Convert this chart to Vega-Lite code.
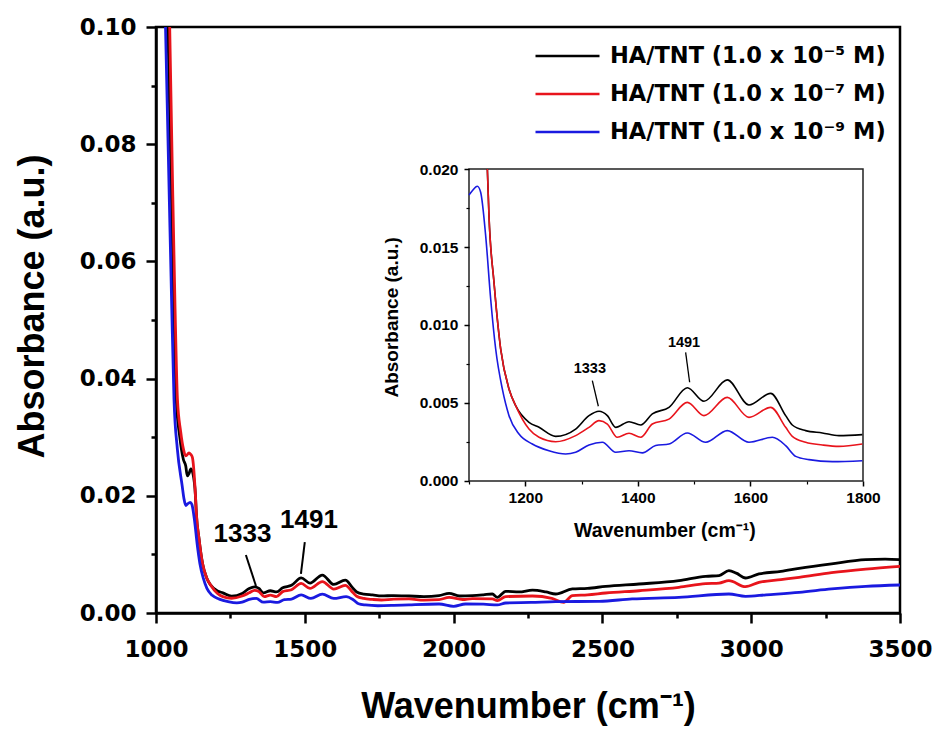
{
  "$schema": "https://vega.github.io/schema/vega-lite/v6.json",
  "width": 744,
  "height": 586,
  "padding": {"left": 14, "top": 16, "right": 5, "bottom": 5},
  "background": "white",
  "config": {
    "view": {"stroke": "black", "strokeWidth": 2.5},
    "axis": {"grid": false, "labelColor": "black", "tickColor": "black", "domainColor": "black", "titleColor": "black", "labelFlush": false, "labelOverlap": false, "labelBound": false}
  },
  "datasets": {
    "spectra": [
      {"series": "HA/TNT (1.0 x 10⁻⁵ M)", "w": 1040, "A": 0.1},
      {"series": "HA/TNT (1.0 x 10⁻⁵ M)", "w": 1050, "A": 0.075},
      {"series": "HA/TNT (1.0 x 10⁻⁵ M)", "w": 1060, "A": 0.052},
      {"series": "HA/TNT (1.0 x 10⁻⁵ M)", "w": 1068, "A": 0.0365},
      {"series": "HA/TNT (1.0 x 10⁻⁵ M)", "w": 1080, "A": 0.03},
      {"series": "HA/TNT (1.0 x 10⁻⁵ M)", "w": 1092, "A": 0.0262},
      {"series": "HA/TNT (1.0 x 10⁻⁵ M)", "w": 1100, "A": 0.0251},
      {"series": "HA/TNT (1.0 x 10⁻⁵ M)", "w": 1105, "A": 0.0234},
      {"series": "HA/TNT (1.0 x 10⁻⁵ M)", "w": 1111, "A": 0.0238},
      {"series": "HA/TNT (1.0 x 10⁻⁵ M)", "w": 1117, "A": 0.0246},
      {"series": "HA/TNT (1.0 x 10⁻⁵ M)", "w": 1124, "A": 0.0238},
      {"series": "HA/TNT (1.0 x 10⁻⁵ M)", "w": 1132.6, "A": 0.02},
      {"series": "HA/TNT (1.0 x 10⁻⁵ M)", "w": 1135.5, "A": 0.017},
      {"series": "HA/TNT (1.0 x 10⁻⁵ M)", "w": 1144.4, "A": 0.01274},
      {"series": "HA/TNT (1.0 x 10⁻⁵ M)", "w": 1156.3, "A": 0.00846},
      {"series": "HA/TNT (1.0 x 10⁻⁵ M)", "w": 1171.1, "A": 0.0059},
      {"series": "HA/TNT (1.0 x 10⁻⁵ M)", "w": 1182.9, "A": 0.00483},
      {"series": "HA/TNT (1.0 x 10⁻⁵ M)", "w": 1206.6, "A": 0.00376},
      {"series": "HA/TNT (1.0 x 10⁻⁵ M)", "w": 1224.4, "A": 0.00344},
      {"series": "HA/TNT (1.0 x 10⁻⁵ M)", "w": 1254, "A": 0.00286},
      {"series": "HA/TNT (1.0 x 10⁻⁵ M)", "w": 1289.5, "A": 0.00333},
      {"series": "HA/TNT (1.0 x 10⁻⁵ M)", "w": 1313.2, "A": 0.00419},
      {"series": "HA/TNT (1.0 x 10⁻⁵ M)", "w": 1331, "A": 0.00447},
      {"series": "HA/TNT (1.0 x 10⁻⁵ M)", "w": 1345.8, "A": 0.00419},
      {"series": "HA/TNT (1.0 x 10⁻⁵ M)", "w": 1360.6, "A": 0.00344},
      {"series": "HA/TNT (1.0 x 10⁻⁵ M)", "w": 1384.3, "A": 0.0038},
      {"series": "HA/TNT (1.0 x 10⁻⁵ M)", "w": 1405, "A": 0.00359},
      {"series": "HA/TNT (1.0 x 10⁻⁵ M)", "w": 1425.7, "A": 0.0043},
      {"series": "HA/TNT (1.0 x 10⁻⁵ M)", "w": 1455.3, "A": 0.00472},
      {"series": "HA/TNT (1.0 x 10⁻⁵ M)", "w": 1487.9, "A": 0.00598},
      {"series": "HA/TNT (1.0 x 10⁻⁵ M)", "w": 1517.5, "A": 0.00511},
      {"series": "HA/TNT (1.0 x 10⁻⁵ M)", "w": 1558.9, "A": 0.00648},
      {"series": "HA/TNT (1.0 x 10⁻⁵ M)", "w": 1597.4, "A": 0.00487},
      {"series": "HA/TNT (1.0 x 10⁻⁵ M)", "w": 1636, "A": 0.00562},
      {"series": "HA/TNT (1.0 x 10⁻⁵ M)", "w": 1662.6, "A": 0.00419},
      {"series": "HA/TNT (1.0 x 10⁻⁵ M)", "w": 1674.4, "A": 0.00359},
      {"series": "HA/TNT (1.0 x 10⁻⁵ M)", "w": 1698.1, "A": 0.00323},
      {"series": "HA/TNT (1.0 x 10⁻⁵ M)", "w": 1727.7, "A": 0.00308},
      {"series": "HA/TNT (1.0 x 10⁻⁵ M)", "w": 1757.3, "A": 0.00291},
      {"series": "HA/TNT (1.0 x 10⁻⁵ M)", "w": 1798.8, "A": 0.00297},
      {"series": "HA/TNT (1.0 x 10⁻⁵ M)", "w": 1850, "A": 0.0029},
      {"series": "HA/TNT (1.0 x 10⁻⁵ M)", "w": 1900, "A": 0.0028},
      {"series": "HA/TNT (1.0 x 10⁻⁵ M)", "w": 1951, "A": 0.00296},
      {"series": "HA/TNT (1.0 x 10⁻⁵ M)", "w": 1985, "A": 0.00336},
      {"series": "HA/TNT (1.0 x 10⁻⁵ M)", "w": 2020, "A": 0.0029},
      {"series": "HA/TNT (1.0 x 10⁻⁵ M)", "w": 2063, "A": 0.00296},
      {"series": "HA/TNT (1.0 x 10⁻⁵ M)", "w": 2100, "A": 0.0031},
      {"series": "HA/TNT (1.0 x 10⁻⁵ M)", "w": 2130, "A": 0.00324},
      {"series": "HA/TNT (1.0 x 10⁻⁵ M)", "w": 2147, "A": 0.00268},
      {"series": "HA/TNT (1.0 x 10⁻⁵ M)", "w": 2175, "A": 0.0037},
      {"series": "HA/TNT (1.0 x 10⁻⁵ M)", "w": 2220, "A": 0.0036},
      {"series": "HA/TNT (1.0 x 10⁻⁵ M)", "w": 2265, "A": 0.0039},
      {"series": "HA/TNT (1.0 x 10⁻⁵ M)", "w": 2310, "A": 0.0036},
      {"series": "HA/TNT (1.0 x 10⁻⁵ M)", "w": 2343, "A": 0.00324},
      {"series": "HA/TNT (1.0 x 10⁻⁵ M)", "w": 2399, "A": 0.0041},
      {"series": "HA/TNT (1.0 x 10⁻⁵ M)", "w": 2450, "A": 0.0042},
      {"series": "HA/TNT (1.0 x 10⁻⁵ M)", "w": 2511, "A": 0.00455},
      {"series": "HA/TNT (1.0 x 10⁻⁵ M)", "w": 2623, "A": 0.00495},
      {"series": "HA/TNT (1.0 x 10⁻⁵ M)", "w": 2757, "A": 0.00552},
      {"series": "HA/TNT (1.0 x 10⁻⁵ M)", "w": 2847, "A": 0.00626},
      {"series": "HA/TNT (1.0 x 10⁻⁵ M)", "w": 2892, "A": 0.00637},
      {"series": "HA/TNT (1.0 x 10⁻⁵ M)", "w": 2925, "A": 0.00722},
      {"series": "HA/TNT (1.0 x 10⁻⁵ M)", "w": 2950, "A": 0.0068},
      {"series": "HA/TNT (1.0 x 10⁻⁵ M)", "w": 2981, "A": 0.00597},
      {"series": "HA/TNT (1.0 x 10⁻⁵ M)", "w": 3026, "A": 0.00666},
      {"series": "HA/TNT (1.0 x 10⁻⁵ M)", "w": 3100, "A": 0.0071},
      {"series": "HA/TNT (1.0 x 10⁻⁵ M)", "w": 3161, "A": 0.00762},
      {"series": "HA/TNT (1.0 x 10⁻⁵ M)", "w": 3270, "A": 0.0084},
      {"series": "HA/TNT (1.0 x 10⁻⁵ M)", "w": 3385, "A": 0.0091},
      {"series": "HA/TNT (1.0 x 10⁻⁵ M)", "w": 3450, "A": 0.0092},
      {"series": "HA/TNT (1.0 x 10⁻⁵ M)", "w": 3500, "A": 0.0091},

      {"series": "HA/TNT (1.0 x 10⁻⁷ M)", "w": 1046, "A": 0.1},
      {"series": "HA/TNT (1.0 x 10⁻⁷ M)", "w": 1055, "A": 0.075},
      {"series": "HA/TNT (1.0 x 10⁻⁷ M)", "w": 1064, "A": 0.052},
      {"series": "HA/TNT (1.0 x 10⁻⁷ M)", "w": 1072, "A": 0.0365},
      {"series": "HA/TNT (1.0 x 10⁻⁷ M)", "w": 1083, "A": 0.0309},
      {"series": "HA/TNT (1.0 x 10⁻⁷ M)", "w": 1092, "A": 0.028},
      {"series": "HA/TNT (1.0 x 10⁻⁷ M)", "w": 1100, "A": 0.0268},
      {"series": "HA/TNT (1.0 x 10⁻⁷ M)", "w": 1111, "A": 0.0273},
      {"series": "HA/TNT (1.0 x 10⁻⁷ M)", "w": 1116, "A": 0.0271},
      {"series": "HA/TNT (1.0 x 10⁻⁷ M)", "w": 1122, "A": 0.0266},
      {"series": "HA/TNT (1.0 x 10⁻⁷ M)", "w": 1132.6, "A": 0.02},
      {"series": "HA/TNT (1.0 x 10⁻⁷ M)", "w": 1135.5, "A": 0.017},
      {"series": "HA/TNT (1.0 x 10⁻⁷ M)", "w": 1144.4, "A": 0.01274},
      {"series": "HA/TNT (1.0 x 10⁻⁷ M)", "w": 1156.3, "A": 0.00846},
      {"series": "HA/TNT (1.0 x 10⁻⁷ M)", "w": 1171.1, "A": 0.0059},
      {"series": "HA/TNT (1.0 x 10⁻⁷ M)", "w": 1182.9, "A": 0.00483},
      {"series": "HA/TNT (1.0 x 10⁻⁷ M)", "w": 1206.6, "A": 0.00333},
      {"series": "HA/TNT (1.0 x 10⁻⁷ M)", "w": 1224.4, "A": 0.0028},
      {"series": "HA/TNT (1.0 x 10⁻⁷ M)", "w": 1254, "A": 0.00252},
      {"series": "HA/TNT (1.0 x 10⁻⁷ M)", "w": 1289.5, "A": 0.00291},
      {"series": "HA/TNT (1.0 x 10⁻⁷ M)", "w": 1313.2, "A": 0.00344},
      {"series": "HA/TNT (1.0 x 10⁻⁷ M)", "w": 1331, "A": 0.00387},
      {"series": "HA/TNT (1.0 x 10⁻⁷ M)", "w": 1345.8, "A": 0.00365},
      {"series": "HA/TNT (1.0 x 10⁻⁷ M)", "w": 1363.5, "A": 0.0028},
      {"series": "HA/TNT (1.0 x 10⁻⁷ M)", "w": 1384.3, "A": 0.00306},
      {"series": "HA/TNT (1.0 x 10⁻⁷ M)", "w": 1405, "A": 0.0028},
      {"series": "HA/TNT (1.0 x 10⁻⁷ M)", "w": 1425.7, "A": 0.00365},
      {"series": "HA/TNT (1.0 x 10⁻⁷ M)", "w": 1455.3, "A": 0.00397},
      {"series": "HA/TNT (1.0 x 10⁻⁷ M)", "w": 1487.9, "A": 0.00504},
      {"series": "HA/TNT (1.0 x 10⁻⁷ M)", "w": 1517.5, "A": 0.00419},
      {"series": "HA/TNT (1.0 x 10⁻⁷ M)", "w": 1558.9, "A": 0.00536},
      {"series": "HA/TNT (1.0 x 10⁻⁷ M)", "w": 1597.4, "A": 0.00408},
      {"series": "HA/TNT (1.0 x 10⁻⁷ M)", "w": 1636, "A": 0.00472},
      {"series": "HA/TNT (1.0 x 10⁻⁷ M)", "w": 1662.6, "A": 0.00344},
      {"series": "HA/TNT (1.0 x 10⁻⁷ M)", "w": 1674.4, "A": 0.00286},
      {"series": "HA/TNT (1.0 x 10⁻⁷ M)", "w": 1698.1, "A": 0.00248},
      {"series": "HA/TNT (1.0 x 10⁻⁷ M)", "w": 1727.7, "A": 0.00231},
      {"series": "HA/TNT (1.0 x 10⁻⁷ M)", "w": 1757.3, "A": 0.00222},
      {"series": "HA/TNT (1.0 x 10⁻⁷ M)", "w": 1798.8, "A": 0.00237},
      {"series": "HA/TNT (1.0 x 10⁻⁷ M)", "w": 1850, "A": 0.0024},
      {"series": "HA/TNT (1.0 x 10⁻⁷ M)", "w": 1900, "A": 0.0022},
      {"series": "HA/TNT (1.0 x 10⁻⁷ M)", "w": 1951, "A": 0.00228},
      {"series": "HA/TNT (1.0 x 10⁻⁷ M)", "w": 1985, "A": 0.00267},
      {"series": "HA/TNT (1.0 x 10⁻⁷ M)", "w": 2030, "A": 0.0023},
      {"series": "HA/TNT (1.0 x 10⁻⁷ M)", "w": 2063, "A": 0.00247},
      {"series": "HA/TNT (1.0 x 10⁻⁷ M)", "w": 2130, "A": 0.0024},
      {"series": "HA/TNT (1.0 x 10⁻⁷ M)", "w": 2147, "A": 0.0021},
      {"series": "HA/TNT (1.0 x 10⁻⁷ M)", "w": 2175, "A": 0.0028},
      {"series": "HA/TNT (1.0 x 10⁻⁷ M)", "w": 2265, "A": 0.0029},
      {"series": "HA/TNT (1.0 x 10⁻⁷ M)", "w": 2330, "A": 0.0025},
      {"series": "HA/TNT (1.0 x 10⁻⁷ M)", "w": 2370, "A": 0.00182},
      {"series": "HA/TNT (1.0 x 10⁻⁷ M)", "w": 2399, "A": 0.00296},
      {"series": "HA/TNT (1.0 x 10⁻⁷ M)", "w": 2450, "A": 0.0031},
      {"series": "HA/TNT (1.0 x 10⁻⁷ M)", "w": 2511, "A": 0.00341},
      {"series": "HA/TNT (1.0 x 10⁻⁷ M)", "w": 2623, "A": 0.0038},
      {"series": "HA/TNT (1.0 x 10⁻⁷ M)", "w": 2757, "A": 0.00438},
      {"series": "HA/TNT (1.0 x 10⁻⁷ M)", "w": 2847, "A": 0.005},
      {"series": "HA/TNT (1.0 x 10⁻⁷ M)", "w": 2892, "A": 0.0051},
      {"series": "HA/TNT (1.0 x 10⁻⁷ M)", "w": 2925, "A": 0.00552},
      {"series": "HA/TNT (1.0 x 10⁻⁷ M)", "w": 2981, "A": 0.00449},
      {"series": "HA/TNT (1.0 x 10⁻⁷ M)", "w": 3026, "A": 0.00523},
      {"series": "HA/TNT (1.0 x 10⁻⁷ M)", "w": 3100, "A": 0.0057},
      {"series": "HA/TNT (1.0 x 10⁻⁷ M)", "w": 3161, "A": 0.00609},
      {"series": "HA/TNT (1.0 x 10⁻⁷ M)", "w": 3270, "A": 0.0069},
      {"series": "HA/TNT (1.0 x 10⁻⁷ M)", "w": 3385, "A": 0.0075},
      {"series": "HA/TNT (1.0 x 10⁻⁷ M)", "w": 3500, "A": 0.00796},

      {"series": "HA/TNT (1.0 x 10⁻⁹ M)", "w": 1032, "A": 0.1},
      {"series": "HA/TNT (1.0 x 10⁻⁹ M)", "w": 1045, "A": 0.07},
      {"series": "HA/TNT (1.0 x 10⁻⁹ M)", "w": 1053, "A": 0.052},
      {"series": "HA/TNT (1.0 x 10⁻⁹ M)", "w": 1060.5, "A": 0.0365},
      {"series": "HA/TNT (1.0 x 10⁻⁹ M)", "w": 1071.7, "A": 0.028},
      {"series": "HA/TNT (1.0 x 10⁻⁹ M)", "w": 1088, "A": 0.0217},
      {"series": "HA/TNT (1.0 x 10⁻⁹ M)", "w": 1094, "A": 0.0195},
      {"series": "HA/TNT (1.0 x 10⁻⁹ M)", "w": 1100, "A": 0.01834},
      {"series": "HA/TNT (1.0 x 10⁻⁹ M)", "w": 1105.9, "A": 0.01861},
      {"series": "HA/TNT (1.0 x 10⁻⁹ M)", "w": 1114.8, "A": 0.01889},
      {"series": "HA/TNT (1.0 x 10⁻⁹ M)", "w": 1120.7, "A": 0.01851},
      {"series": "HA/TNT (1.0 x 10⁻⁹ M)", "w": 1129.6, "A": 0.01573},
      {"series": "HA/TNT (1.0 x 10⁻⁹ M)", "w": 1138.5, "A": 0.01167},
      {"series": "HA/TNT (1.0 x 10⁻⁹ M)", "w": 1147.4, "A": 0.00846},
      {"series": "HA/TNT (1.0 x 10⁻⁹ M)", "w": 1159.2, "A": 0.0059},
      {"series": "HA/TNT (1.0 x 10⁻⁹ M)", "w": 1171.1, "A": 0.00419},
      {"series": "HA/TNT (1.0 x 10⁻⁹ M)", "w": 1188.8, "A": 0.00301},
      {"series": "HA/TNT (1.0 x 10⁻⁹ M)", "w": 1212.5, "A": 0.00237},
      {"series": "HA/TNT (1.0 x 10⁻⁹ M)", "w": 1242.1, "A": 0.00194},
      {"series": "HA/TNT (1.0 x 10⁻⁹ M)", "w": 1271.7, "A": 0.00173},
      {"series": "HA/TNT (1.0 x 10⁻⁹ M)", "w": 1289.5, "A": 0.00184},
      {"series": "HA/TNT (1.0 x 10⁻⁹ M)", "w": 1313.2, "A": 0.00231},
      {"series": "HA/TNT (1.0 x 10⁻⁹ M)", "w": 1336.9, "A": 0.00248},
      {"series": "HA/TNT (1.0 x 10⁻⁹ M)", "w": 1360.6, "A": 0.00184},
      {"series": "HA/TNT (1.0 x 10⁻⁹ M)", "w": 1384.3, "A": 0.00194},
      {"series": "HA/TNT (1.0 x 10⁻⁹ M)", "w": 1408, "A": 0.0018},
      {"series": "HA/TNT (1.0 x 10⁻⁹ M)", "w": 1431.6, "A": 0.00227},
      {"series": "HA/TNT (1.0 x 10⁻⁹ M)", "w": 1455.3, "A": 0.00237},
      {"series": "HA/TNT (1.0 x 10⁻⁹ M)", "w": 1487.9, "A": 0.00308},
      {"series": "HA/TNT (1.0 x 10⁻⁹ M)", "w": 1520.5, "A": 0.00248},
      {"series": "HA/TNT (1.0 x 10⁻⁹ M)", "w": 1558.9, "A": 0.00323},
      {"series": "HA/TNT (1.0 x 10⁻⁹ M)", "w": 1597.4, "A": 0.00248},
      {"series": "HA/TNT (1.0 x 10⁻⁹ M)", "w": 1638.9, "A": 0.0028},
      {"series": "HA/TNT (1.0 x 10⁻⁹ M)", "w": 1662.6, "A": 0.00227},
      {"series": "HA/TNT (1.0 x 10⁻⁹ M)", "w": 1680.4, "A": 0.00158},
      {"series": "HA/TNT (1.0 x 10⁻⁹ M)", "w": 1704, "A": 0.00137},
      {"series": "HA/TNT (1.0 x 10⁻⁹ M)", "w": 1745.5, "A": 0.00124},
      {"series": "HA/TNT (1.0 x 10⁻⁹ M)", "w": 1798.8, "A": 0.0013},
      {"series": "HA/TNT (1.0 x 10⁻⁹ M)", "w": 1850, "A": 0.0014},
      {"series": "HA/TNT (1.0 x 10⁻⁹ M)", "w": 1951, "A": 0.00154},
      {"series": "HA/TNT (1.0 x 10⁻⁹ M)", "w": 2000, "A": 0.00114},
      {"series": "HA/TNT (1.0 x 10⁻⁹ M)", "w": 2040, "A": 0.00154},
      {"series": "HA/TNT (1.0 x 10⁻⁹ M)", "w": 2100, "A": 0.0015},
      {"series": "HA/TNT (1.0 x 10⁻⁹ M)", "w": 2147, "A": 0.00137},
      {"series": "HA/TNT (1.0 x 10⁻⁹ M)", "w": 2175, "A": 0.00171},
      {"series": "HA/TNT (1.0 x 10⁻⁹ M)", "w": 2260, "A": 0.0018},
      {"series": "HA/TNT (1.0 x 10⁻⁹ M)", "w": 2343, "A": 0.00193},
      {"series": "HA/TNT (1.0 x 10⁻⁹ M)", "w": 2489, "A": 0.002},
      {"series": "HA/TNT (1.0 x 10⁻⁹ M)", "w": 2600, "A": 0.0024},
      {"series": "HA/TNT (1.0 x 10⁻⁹ M)", "w": 2757, "A": 0.00267},
      {"series": "HA/TNT (1.0 x 10⁻⁹ M)", "w": 2925, "A": 0.00324},
      {"series": "HA/TNT (1.0 x 10⁻⁹ M)", "w": 2981, "A": 0.00284},
      {"series": "HA/TNT (1.0 x 10⁻⁹ M)", "w": 3050, "A": 0.0031},
      {"series": "HA/TNT (1.0 x 10⁻⁹ M)", "w": 3161, "A": 0.00352},
      {"series": "HA/TNT (1.0 x 10⁻⁹ M)", "w": 3270, "A": 0.0041},
      {"series": "HA/TNT (1.0 x 10⁻⁹ M)", "w": 3385, "A": 0.00455},
      {"series": "HA/TNT (1.0 x 10⁻⁹ M)", "w": 3500, "A": 0.00478}
    ],
    "mainNotes": [
      {"w": 1290.7, "A": 0.01348, "label": "1333"},
      {"w": 1514, "A": 0.0159, "label": "1491"}
    ],
    "mainLeaders": [
      {"w": 1302, "A": 0.0099, "w2": 1336, "A2": 0.0046},
      {"w": 1500, "A": 0.0121, "w2": 1487, "A2": 0.00666}
    ],
    "insetBox": [{"x1": 1100, "x2": 1800, "y1": 0, "y2": 0.02}],
    "insetNotes": [
      {"w": 1314.7, "A": 0.00718, "label": "1333"},
      {"w": 1482, "A": 0.00886, "label": "1491"}
    ],
    "insetLeaders": [
      {"w": 1319.1, "A": 0.00643, "w2": 1329.8, "A2": 0.00479},
      {"w": 1484.9, "A": 0.00825, "w2": 1492, "A2": 0.00633}
    ],
    "insetXTitle": [{"w": 1448, "A": -0.00318, "label": "Wavenumber (cm⁻¹)"}],
    "insetYTitle": [{"w": 963.7, "A": 0.01049, "label": "Absorbance (a.u.)"}]
  },
  "layer": [
    {
      "layer": [
        {
          "data": {"name": "spectra"},
          "mark": {"type": "line", "strokeWidth": 2.8, "clip": true, "interpolate": "monotone"},
          "encoding": {
            "x": {
              "field": "w", "type": "quantitative",
              "scale": {"domain": [1000, 3500], "nice": false, "zero": false},
              "axis": {
                "orient": "bottom", "values": [1000, 1500, 2000, 2500, 3000, 3500], "format": "d",
                "domainWidth": 2.5, "tickSize": 10, "tickWidth": 2.5,
                "labelFont": "DejaVu Sans", "labelFontWeight": "bold", "labelFontSize": 23, "labelPadding": 15,
                "title": "Wavenumber (cm⁻¹)", "titleFont": "Liberation Sans", "titleFontWeight": "bold", "titleFontSize": 36, "titlePadding": 28
              }
            },
            "y": {
              "field": "A", "type": "quantitative",
              "scale": {"domain": [0, 0.1], "nice": false, "zero": false},
              "axis": {
                "orient": "left", "values": [0, 0.02, 0.04, 0.06, 0.08, 0.1], "format": ".2f",
                "domainWidth": 2.5, "tickSize": 10, "tickWidth": 2.5,
                "labelFont": "DejaVu Sans", "labelFontWeight": "bold", "labelFontSize": 23, "labelPadding": 10,
                "title": "Absorbance (a.u.)", "titleFont": "Liberation Sans", "titleFontWeight": "bold", "titleFontSize": 36, "titlePadding": 28, "titleY": 279
              }
            },
            "color": {
              "field": "series", "type": "nominal",
              "scale": {"domain": ["HA/TNT (1.0 x 10⁻⁵ M)", "HA/TNT (1.0 x 10⁻⁷ M)", "HA/TNT (1.0 x 10⁻⁹ M)"], "range": ["#000000", "#e8141c", "#1a1ae0"]},
              "legend": {
                "title": null, "orient": "top-right", "offset": 14, "padding": 0,
                "symbolType": "stroke", "symbolSize": 4096, "symbolStrokeWidth": 2.5,
                "clipHeight": 30,
                "labelFont": "DejaVu Sans", "labelFontWeight": "bold", "labelFontSize": 22.5, "labelColor": "black",
                "labelOffset": 9, "rowPadding": 8, "labelLimit": 500
              }
            }
          }
        },
        {
          "data": {"name": "mainLeaders"},
          "mark": {"type": "rule", "strokeWidth": 2, "color": "black"},
          "encoding": {
            "x": {
              "field": "w", "type": "quantitative",
              "axis": {"orient": "bottom", "values": [1250, 1750, 2250, 2750, 3250], "labels": false, "domain": false, "tickSize": 5, "tickWidth": 2.5, "title": null}
            },
            "x2": {"field": "w2"},
            "y": {
              "field": "A", "type": "quantitative",
              "axis": {"orient": "left", "values": [0.01, 0.03, 0.05, 0.07, 0.09], "labels": false, "domain": false, "tickSize": 5, "tickWidth": 2.5, "title": null}
            },
            "y2": {"field": "A2"}
          }
        },
        {
          "data": {"name": "mainNotes"},
          "mark": {"type": "text", "font": "Liberation Sans", "fontWeight": "bold", "fontSize": 26, "color": "black", "align": "center", "baseline": "middle"},
          "encoding": {
            "x": {"field": "w", "type": "quantitative", "axis": null},
            "y": {"field": "A", "type": "quantitative", "axis": null},
            "text": {"field": "label"}
          }
        }
      ],
      "resolve": {"axis": {"x": "independent", "y": "independent"}}
    },
    {
      "layer": [
        {
          "data": {"name": "insetBox"},
          "mark": {"type": "rect", "fill": "white", "stroke": "#222222", "strokeWidth": 1.5},
          "encoding": {
            "x": {
              "field": "x1", "type": "quantitative",
              "scale": {"domain": [543.91, 1865.74], "nice": false, "zero": false},
              "axis": {
                "orient": "bottom", "offset": -132, "values": [1200, 1400, 1600, 1800], "format": "d",
                "domain": false, "tickSize": 5, "tickWidth": 1.5, "zindex": 1,
                "labelFont": "Liberation Sans", "labelFontWeight": "bold", "labelFontSize": 15.5, "labelPadding": 4, "title": null
              }
            },
            "x2": {"field": "x2"},
            "y": {
              "field": "y1", "type": "quantitative",
              "scale": {"domain": [-0.008462, 0.029103], "nice": false, "zero": false},
              "axis": {
                "orient": "left", "offset": -313, "values": [0, 0.005, 0.01, 0.015, 0.02], "format": ".3f",
                "domain": false, "tickSize": 5, "tickWidth": 1.5, "zindex": 1,
                "labelFont": "Liberation Sans", "labelFontWeight": "bold", "labelFontSize": 15.5, "labelPadding": 6, "title": null
              }
            },
            "y2": {"field": "y2"}
          }
        },
        {
          "data": {"name": "spectra"},
          "transform": [{"filter": "datum.w >= 1100 && datum.w <= 1800 && datum.A <= 0.02"}],
          "mark": {"type": "line", "strokeWidth": 1.6, "interpolate": "monotone"},
          "encoding": {
            "x": {
              "field": "w", "type": "quantitative",
              "axis": {"orient": "bottom", "offset": -132, "values": [1100, 1300, 1500, 1700], "labels": false, "domain": false, "tickSize": 3, "tickWidth": 1.2, "zindex": 1, "title": null}
            },
            "y": {
              "field": "A", "type": "quantitative",
              "axis": {"orient": "left", "offset": -313, "values": [0.0025, 0.0075, 0.0125, 0.0175], "labels": false, "domain": false, "tickSize": 3, "tickWidth": 1.2, "zindex": 1, "title": null}
            },
            "stroke": {
              "field": "series", "type": "nominal",
              "scale": {"domain": ["HA/TNT (1.0 x 10⁻⁵ M)", "HA/TNT (1.0 x 10⁻⁷ M)", "HA/TNT (1.0 x 10⁻⁹ M)"], "range": ["#000000", "#e8141c", "#1a1ae0"]},
              "legend": null
            }
          }
        },
        {
          "data": {"name": "insetLeaders"},
          "mark": {"type": "rule", "strokeWidth": 1.3, "color": "black"},
          "encoding": {
            "x": {"field": "w", "type": "quantitative", "axis": null},
            "x2": {"field": "w2"},
            "y": {"field": "A", "type": "quantitative", "axis": null},
            "y2": {"field": "A2"}
          }
        },
        {
          "data": {"name": "insetNotes"},
          "mark": {"type": "text", "font": "Liberation Sans", "fontWeight": "bold", "fontSize": 14.5, "color": "black", "align": "center", "baseline": "middle"},
          "encoding": {
            "x": {"field": "w", "type": "quantitative", "axis": null},
            "y": {"field": "A", "type": "quantitative", "axis": null},
            "text": {"field": "label"}
          }
        },
        {
          "data": {"name": "insetXTitle"},
          "mark": {"type": "text", "font": "Liberation Sans", "fontWeight": "bold", "fontSize": 19.5, "color": "black", "align": "center", "baseline": "middle"},
          "encoding": {
            "x": {"field": "w", "type": "quantitative", "axis": null},
            "y": {"field": "A", "type": "quantitative", "axis": null},
            "text": {"field": "label"}
          }
        },
        {
          "data": {"name": "insetYTitle"},
          "mark": {"type": "text", "font": "Liberation Sans", "fontWeight": "bold", "fontSize": 19, "color": "black", "align": "center", "baseline": "middle", "angle": 270},
          "encoding": {
            "x": {"field": "w", "type": "quantitative", "axis": null},
            "y": {"field": "A", "type": "quantitative", "axis": null},
            "text": {"field": "label"}
          }
        }
      ],
      "resolve": {"axis": {"x": "independent", "y": "independent"}}
    }
  ],
  "resolve": {"scale": {"x": "independent", "y": "independent"}, "axis": {"x": "independent", "y": "independent"}}
}
